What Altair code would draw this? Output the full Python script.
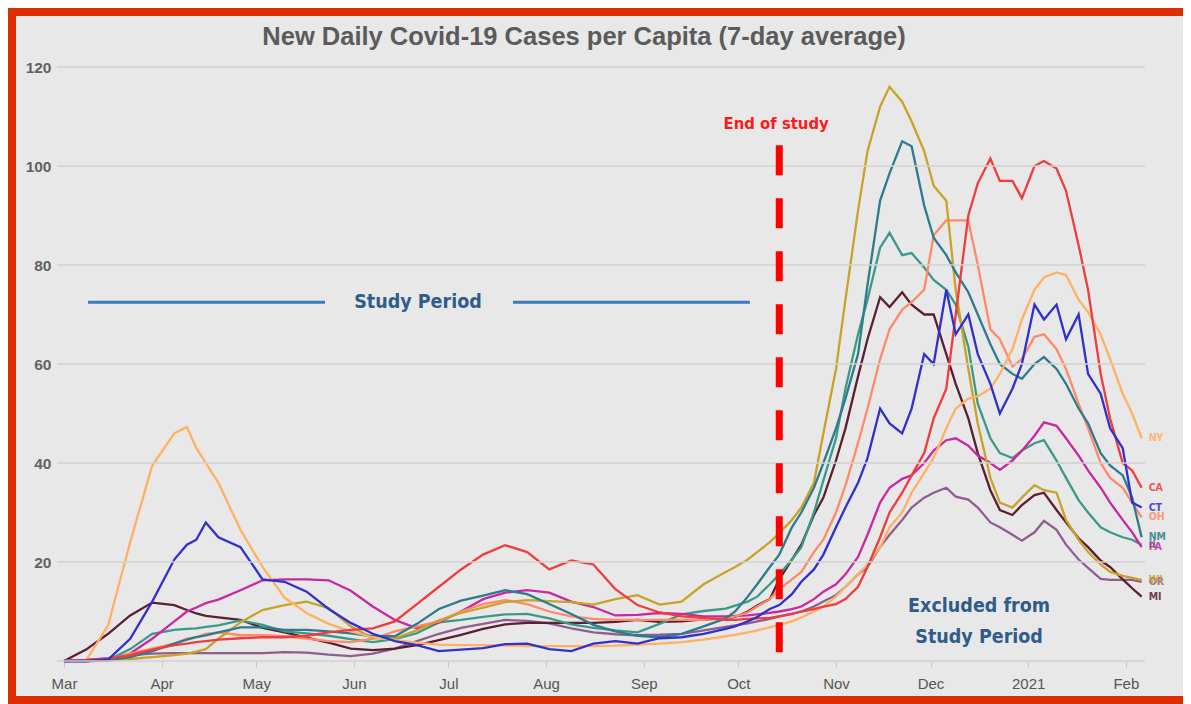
import altair as alt
import pandas as pd

# ---- data ----
DAYS = [0, 7, 14, 21, 28, 35, 39, 42, 45, 49, 56, 63, 70, 77, 84, 91, 98, 105, 112, 119, 126, 133, 140, 147,
        154, 161, 168, 175, 182, 189, 196, 203,
        210, 213, 217, 220, 224, 227, 231, 234, 238, 241, 245, 248, 252, 255, 259, 262, 266, 269, 273, 276,
        280, 283, 287, 290, 294, 297, 301, 304, 308, 311, 315, 318, 322, 325, 329, 332, 336, 339, 342]

NY = [0, 0.1, 7.2, 24, 39.5, 46, 47.3, 43, 40, 36, 26.5, 19, 12.8, 9.7, 7.5, 6, 4.8, 4.2, 3.7, 3.3, 3.2, 3.2,
      3.1, 3.0, 3.0, 3.0, 3.0, 3.1, 3.3, 3.5, 3.8, 4.3,
      5.0, 5.3, 5.8, 6.2, 6.8, 7.3, 8.0, 8.8, 10, 11, 13, 15, 17.5, 19.5, 23, 27, 30, 34, 38, 41, 47, 51, 53,
      53.5, 55, 58, 63, 69, 75, 77.5, 78.5, 78, 73, 70.5, 66, 61, 54, 50, 45]
CA = [0, 0.2, 0.5, 1.2, 2.3, 3.2, 3.5, 3.8, 4.0, 4.3, 4.6, 4.8, 4.8, 5.1, 5.8, 6.3, 6.6, 8, 11.5, 15, 18.5,
      21.5, 23.4, 22, 18.5, 20.3, 19.5, 14.5, 11.3, 9.8, 9, 8.7,
      8.3, 8.3, 8.5, 8.6, 8.7, 9, 9.5, 10, 10.5, 11, 11.5, 12.5, 15, 19, 25, 30, 34, 37.5, 42, 49, 55, 70, 90,
      96.5, 101.5, 97, 97, 93.5, 100, 101, 99.5, 95, 84, 75, 58, 49, 40, 38.5, 35]
CT = [0, 0, 0.3, 4.5, 12, 20.5, 23.5, 24.5, 28, 25, 23, 16.5, 16, 14, 10.5, 7.7, 5.5, 4.0, 3.2, 2.0, 2.3, 2.6,
      3.4, 3.5, 2.4, 2.0, 3.5, 4.0, 3.5, 4.6, 4.8, 5.5,
      6.5, 7.0, 8.0, 8.9, 10.5, 11.3, 13.5, 16, 18.5, 21.5, 27, 31, 36, 41, 51, 48, 46, 51, 62, 60, 75, 66, 70,
      62, 56, 50, 55, 60, 72, 69, 72, 65, 70, 58, 54, 47, 43, 32, 31]
OH = [0, 0, 0.3, 1.5, 2.5, 3.5, 4.5, 4.8, 5.5, 5.8, 5.2, 5.2, 5.0, 4.5, 4.0, 3.8, 4.5, 6, 7, 8, 10, 11.5, 12.3,
      11.5, 10, 9, 8.5, 8.3, 8.3, 8.3, 8.3, 8.3,
      8.6, 9, 9.8, 11, 12.5, 14.5, 16.5, 18, 22, 24.5, 30, 35.5, 44, 51, 61, 67, 71, 72.5, 75, 86, 89, 89, 89,
      80, 67, 65, 59.5, 61, 65.5, 66, 63, 59, 52, 47, 40, 37, 35, 32, 29]
NM = [0, 0, 0.2, 0.8, 2, 3.5, 4.3, 4.8, 5.2, 5.8, 6.8, 6.8, 6.3, 6.3, 6, 5.6, 5.0, 5, 7.5, 10.5, 12.2, 13.2,
      14.3, 13.5, 11.5, 9.5, 7.3, 6, 5.1, 4.8, 5.5, 7,
      8.6, 10, 13, 15.5, 19, 21.5, 27, 30, 35, 40, 47, 53, 62, 76, 93, 98.5, 105, 104, 92, 85.5, 82, 78.5, 74.5,
      70, 64, 60, 58, 57, 60, 61.4, 59, 56, 51, 48, 42, 39.5, 37.5, 33, 25]
IL = [0, 0, 0.2, 2.4, 5.5, 6.3, 6.5, 6.6, 6.9, 7.2, 8.2, 7.3, 6, 5.6, 5.1, 4.4, 3.8, 4.4, 5.6, 7.8, 8.3, 8.9,
      9.4, 9.5, 8.6, 7.4, 6.7, 6.2, 5.8, 7.5, 9.4, 10.1,
      10.6, 11.2, 12, 13, 15.5, 17.5, 20.5, 23, 30, 36.5, 45, 55, 66, 73, 83.5, 86.5, 82, 82.4, 79.5, 77, 75, 72,
      63.5, 52, 45, 42, 41, 42.5, 44, 44.6, 40.5, 37, 32.5, 30, 27, 26, 25, 24.5, 23.5]
PA = [0, 0, 0.1, 1.5, 4.5, 8, 10, 10.8, 11.7, 12.4, 14.3, 16.3, 16.5, 16.5, 16.3, 14.2, 11, 8.3, 6.6, 7.8, 10,
      12.5, 13.8, 14.3, 13.8, 12, 10.9, 9.2, 9.3, 9.7, 9.5, 9,
      9.0, 9.1, 9.2, 9.4, 9.7, 10, 10.5, 11, 12.5, 14, 15.5, 17.5, 21, 25.5, 32, 35, 36.8, 37.5, 40, 42.5, 44.6,
      45, 43.5, 41.5, 40, 38.6, 40.5, 42.5, 45.5, 48.2, 47.5, 45, 41.5, 38.5, 35, 32, 28.5, 26, 23]
WI = [0, 0, 0.1, 0.4, 0.8, 1.2, 1.5, 1.9, 2.4, 4.5, 7.8, 10.3, 11.3, 12, 10.7, 7, 4.6, 4.6, 6.2, 8.2, 9.7, 10.8,
      11.9, 12.3, 12.1, 11.9, 11.4, 12.5, 13.3, 11.4, 12, 15.5,
      18, 19, 20.5, 22, 24, 25.8, 28.5, 31, 36, 46, 59, 73, 91, 103, 112, 116, 113, 109, 103, 96, 93, 75, 59, 48,
      37, 32, 31, 33, 35.5, 34.5, 34, 28.5, 24.5, 22, 19.5, 18, 17.2, 16.8, 16.4]
OR = [0, 0.2, 0.6, 1.2, 1.5, 1.6, 1.6, 1.6, 1.6, 1.6, 1.6, 1.6, 1.8, 1.7, 1.3, 1.0, 1.5, 2.5, 4, 5.5, 6.7, 7.5,
      8.3, 8.1, 7.6, 6.6, 5.8, 5.4, 5.2, 5.3, 5.5, 6.2,
      6.9, 7.2, 7.6, 8, 8.5, 9, 9.5, 10, 11, 12, 13.3, 15, 17.5, 19, 23, 25.5, 28.5, 31, 33, 34, 35, 33.2, 32.6,
      31, 28, 27, 25.5, 24.3, 26, 28.3, 26.5, 23.5, 20.5, 18.8, 16.6, 16.4, 16.4, 16.4, 16]
MI = [0, 2.3, 5.5, 9.2, 11.8, 11.3, 10.3, 9.6, 9.1, 8.8, 8.3, 6.7, 5.8, 4.7, 3.7, 2.5, 2.2, 2.5, 3.2, 4.2, 5.3,
      6.5, 7.4, 7.7, 7.7, 7.7, 7.7, 7.9, 8.3, 7.9, 8, 8.4,
      8.6, 8.9, 10, 11.2, 12.5, 16.5, 20.5, 23.5, 29.5, 33, 40.5, 47, 57.5, 65, 73.5, 71.5, 74.5, 72, 70, 70, 62,
      56, 49, 42, 34.5, 30.5, 29.5, 31.5, 33.5, 34, 30.5, 28, 24.8, 23, 20.3, 19, 16.5, 14.7, 13]

STATES = ["OR", "MI", "IL", "PA", "OH", "WI", "NM", "NY", "CA", "CT"]
VALUES = [OR, MI, IL, PA, OH, WI, NM, NY, CA, CT]
COLORS = ["#8E5E8E", "#5B1F30", "#3A9A8A", "#C8299F", "#FF8A68", "#C9A227", "#2E7A8E", "#FFB062",
          "#F03C3C", "#3030CC"]
Y_TICKS = [20, 40, 60, 80, 100, 120]
GRID = [0, 20, 40, 60, 80, 100, 120]
TITLE = "New Daily Covid-19 Cases per Capita (7-day average)"

START = pd.Timestamp("2020-03-01")
rows = []
for name, vals in zip(STATES, VALUES):
    assert len(vals) == len(DAYS), name
    for d, v in zip(DAYS, vals):
        rows.append({"date": (START + pd.Timedelta(days=d)).strftime("%Y-%m-%dT%H:%M:%S"),
                     "state": name, "value": v})
df = pd.DataFrame(rows)
last = df.groupby("state", sort=False).tail(1).reset_index(drop=True)

NARROW = "Liberation Sans Narrow, Arial Narrow, DejaVu Sans Condensed, sans-serif"
BASE = "Liberation Sans, Arial, sans-serif"

xscale = alt.Scale(domain=[alt.DateTime(year=2020, month=2, date=27, hours=18, minutes=40),
                           alt.DateTime(year=2021, month=2, date=7, hours=1, minutes=40)])
yscale = alt.Scale(domain=[0, 120], nice=False, zero=True)
month_ticks = [alt.DateTime(year=2020, month=m, date=1) for m in range(3, 13)] + \
              [alt.DateTime(year=2021, month=1, date=1), alt.DateTime(year=2021, month=2, date=1)]

color = alt.Color("state:N", scale=alt.Scale(domain=STATES, range=COLORS), legend=None)

lines = alt.Chart(df).mark_line(strokeWidth=2.3).encode(
    x=alt.X("date:T", scale=xscale, title=None,
            axis=alt.Axis(values=month_ticks, grid=False, domain=False, ticks=True, tickSize=6,
                          tickColor="#C8C8C8", labelPadding=9, labelFontSize=15, labelFont=BASE,
                          labelColor="#555555", title=None,
                          labelExpr="month(datum.value) == 0 ? timeFormat(datum.value, '%Y') : timeFormat(datum.value, '%b')")),
    y=alt.Y("value:Q", scale=yscale, title=None,
            axis=alt.Axis(values=Y_TICKS, grid=False, domain=False, ticks=False, labelPadding=6, title=None,
                          labelFontSize=15.5, labelFont=BASE, labelFontWeight="bold", labelColor="#626262")),
    color=color,
)

grid = alt.Chart(pd.DataFrame({"g": GRID})).mark_rule(color="#D2D2D2", strokeWidth=1.5).encode(
    y=alt.Y("g:Q", scale=yscale, title=None))

end_labels = alt.Chart(last).mark_text(align="left", baseline="middle", dx=7, font=NARROW,
                                       fontWeight="bold", fontSize=10.5, opacity=0.85).encode(
    x=alt.X("date:T", scale=xscale, title=None), y=alt.Y("value:Q", scale=yscale, title=None),
    text="state:N", color=color)

study_lines = alt.Chart(pd.DataFrame({
    "start": ["2020-03-08T15:00:00", "2020-07-21T12:00:00"],
    "end": ["2020-05-22T20:00:00", "2020-10-04T16:00:00"],
    "value": [72.5, 72.5]})).mark_rule(color="#3A7ABD", strokeWidth=3).encode(
    x=alt.X("start:T", scale=xscale, title=None), x2="end:T", y=alt.Y("value:Q", scale=yscale, title=None))

blue_text = alt.Chart(pd.DataFrame({
    "date": ["2020-06-21T08:00:00", "2020-12-16T10:00:00", "2020-12-16T10:00:00"],
    "value": [72.5, 11.1, 4.85],
    "label": ["Study Period", "Excluded from", "Study Period"]})).mark_text(
    font=NARROW, fontWeight="bold", fontSize=19.5, color="#2F5C8A", baseline="middle", align="center").encode(
    x=alt.X("date:T", scale=xscale, title=None), y=alt.Y("value:Q", scale=yscale, title=None), text="label:N")

end_text = alt.Chart(pd.DataFrame({"date": ["2020-10-13T00:00:00"], "value": [108.5],
                                   "label": ["End of study"]})).mark_text(
    font=NARROW, fontWeight="bold", fontSize=16.5, color="#FF1A1A", baseline="middle", align="center").encode(
    x=alt.X("date:T", scale=xscale, title=None), y=alt.Y("value:Q", scale=yscale, title=None), text="label:N")

end_rule = alt.Chart(pd.DataFrame({"date": ["2020-10-14T00:00:00"], "top": [104.2], "bottom": [0]})).mark_rule(
    color="#FF0000", strokeWidth=7, strokeDash=[30, 23]).encode(
    x=alt.X("date:T", scale=xscale, title=None), y=alt.Y("top:Q", scale=yscale, title=None), y2="bottom:Q")

title = alt.Chart(pd.DataFrame({"t": [TITLE]})).mark_text(
    font=BASE, fontWeight="bold", fontSize=25.5, color="#5B5B5B", align="center", baseline="alphabetic").encode(
    x=alt.value(527), y=alt.value(-22), text="t:N")

# red frame on the left, top and bottom edges of the picture
FRAME = "#DD2E00"
one = pd.DataFrame({"a": [0]})
frame_top = alt.Chart(one).mark_rule(color=FRAME, strokeWidth=8).encode(
    x=alt.value(-49), x2=alt.value(1126), y=alt.value(-55))
frame_bottom = alt.Chart(one).mark_rule(color=FRAME, strokeWidth=8).encode(
    x=alt.value(-49), x2=alt.value(1126), y=alt.value(633))
frame_left = alt.Chart(one).mark_rule(color=FRAME, strokeWidth=8).encode(
    x=alt.value(-45), y=alt.value(-59), y2=alt.value(637))

chart = alt.layer(lines, grid, end_labels, study_lines, blue_text, end_text, end_rule, title,
                  frame_top, frame_bottom, frame_left).properties(
    width=1088, height=594,
    autosize=alt.AutoSizeParams(type="none"),
    padding={"left": 49, "top": 59, "right": 38, "bottom": 43},
    background="#E8E8E8",
).configure_view(strokeWidth=0)

chart.save("out.html", embed_options={"renderer": "svg", "actions": False})
